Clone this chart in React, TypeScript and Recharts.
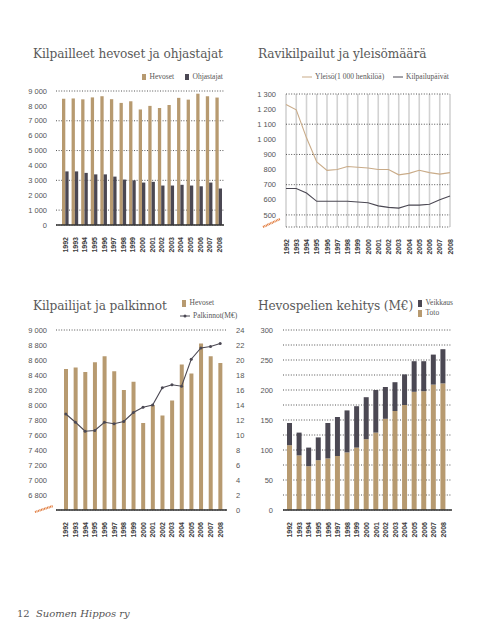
import React from 'react'
import {
  BarChart, Bar, LineChart, Line, ComposedChart, XAxis, YAxis, CartesianGrid,
} from 'recharts'

const years = ['1992', '1993', '1994', '1995', '1996', '1997', '1998', '1999', '2000', '2001', '2002', '2003', '2004', '2005', '2006', '2007', '2008']

// Kilpailleet hevoset ja ohjastajat
const hevoset = [8480, 8500, 8440, 8570, 8650, 8450, 8200, 8310, 7760, 8000, 7860, 8060, 8540, 8420, 8820, 8650, 8560]
const ohjastajat = [3600, 3600, 3500, 3400, 3400, 3250, 3050, 3000, 2850, 2900, 2650, 2650, 2700, 2650, 2600, 2850, 2450]

// Ravikilpailut ja yleisömäärä
const yleiso = [1230, 1195, 1010, 850, 795, 800, 820, 815, 810, 800, 800, 765, 775, 795, 780, 770, 780]
const kilpailupaivat = [675, 675, 645, 590, 590, 590, 590, 585, 580, 560, 550, 545, 565, 565, 570, 600, 625]

// Kilpailijat ja palkinnot
const palkinnot = [12.8, 11.7, 10.5, 10.6, 11.7, 11.5, 11.8, 13.0, 13.7, 14.0, 16.3, 16.7, 16.5, 20.1, 21.6, 21.8, 22.2]

// Hevospelien kehitys (M€)
const toto = [108, 91, 73, 83, 86, 90, 96, 104, 118, 129, 152, 165, 175, 197, 198, 209, 211]
const veikkaus = [37, 38, 31, 38, 59, 65, 70, 69, 70, 71, 53, 48, 51, 51, 50, 50, 57]

const ticks1 = [0, 1000, 2000, 3000, 4000, 5000, 6000, 7000, 8000, 9000]
const ticks2 = [500, 600, 700, 800, 900, 1000, 1100, 1200, 1300]
const ticks3L = [6800, 7000, 7200, 7400, 7600, 7800, 8000, 8200, 8400, 8600, 8800, 9000]
const ticks3R = [0, 2, 4, 6, 8, 10, 12, 14, 16, 18, 20, 22, 24]
const ticks4 = [0, 25, 50, 75, 100, 125, 150, 175, 200, 225, 250, 275, 300]

const TAN = '#b79a70'
const DARK = '#4b4853'
const LIGHT_LINE = '#c9ab88'
const ORANGE = '#e0793a'
const SERIF = '"DejaVu Serif", serif'
const LEG = '"Liberation Serif", serif'
const SANS = '"Liberation Sans", Arial, sans-serif'

const fmtK = (v: number) => (v >= 1000 ? `${Math.floor(v / 1000)} ${String(v % 1000).padStart(3, '0')}` : String(v))

const data1 = years.map((y, i) => ({ year: y, hevoset: hevoset[i], ohjastajat: ohjastajat[i] }))
const data2 = years.map((y, i) => ({ year: y, yleiso: yleiso[i], paivat: kilpailupaivat[i] }))
const data3 = years.map((y, i) => ({ year: y, hevoset: hevoset[i], palkinnot: palkinnot[i] }))
const data4 = years.map((y, i) => ({ year: y, toto: toto[i], veikkaus: veikkaus[i] }))

const YearTick = ({ x, y, payload }: any) => {
  const bx = x + 2.5
  const by = y + 4
  return (
    <text x={bx} y={by} transform={`rotate(-90 ${bx} ${by})`} textAnchor="end"
      fontFamily={SANS} fontWeight="bold" fontSize={7} fill="#3a3a3a">{payload.value}</text>
  )
}

const yTick = { fontFamily: SANS, fontSize: 7.5, fill: '#555' }
const gridProps = { stroke: '#555', strokeDasharray: '1 1.6', vertical: false }

const Title = ({ x, y, children }: any) => (
  <div style={{ position: 'absolute', left: x, top: y, fontFamily: SERIF, fontSize: 13.5, color: '#5a5a5a', whiteSpace: 'nowrap', fontStretch: 'condensed', letterSpacing: -0.1 }}>{children}</div>
)

const legendText = { fontFamily: LEG, fontSize: 7.5, color: '#555', whiteSpace: 'nowrap' as const }

const Swatch = ({ color, w = 4, h = 6 }: any) => (
  <span style={{ display: 'inline-block', width: w, height: h, background: color, marginRight: 4, verticalAlign: 'middle' }} />
)

const LineIcon = ({ color, dot }: any) => (
  <svg width={10} height={6} style={{ marginRight: 3, verticalAlign: 'middle' }}>
    <line x1={0} y1={3} x2={10} y2={3} stroke={color} strokeWidth={1} />
    {dot && <circle cx={5} cy={3} r={1.5} fill={color} />}
  </svg>
)

const Slash = ({ x1, y1, x2, y2 }: any) => (
  <svg width={480} height={640} style={{ position: 'absolute', left: 0, top: 0, pointerEvents: 'none' }}>
    <line x1={x1} y1={y1} x2={x2} y2={y2} stroke={ORANGE} strokeWidth={2.2} strokeDasharray="1 0.6" />
  </svg>
)

export default function App() {
  return (
    <div style={{ position: 'absolute', left: 0, top: 0, width: 480, height: 640, background: '#fff', overflow: 'hidden' }}>
      <Title x={33} y={45}>Kilpailleet hevoset ja ohjastajat</Title>
      <Title x={258} y={45}>Ravikilpailut ja yleisömäärä</Title>
      <Title x={33} y={297}>Kilpailijat ja palkinnot</Title>
      <Title x={258} y={297}>Hevospelien kehitys (M€)</Title>

      {/* Panel 1 */}
      <div style={{ position: 'absolute', left: 0, top: 80 }}>
        <BarChart width={240} height={180} data={data1} barGap={0} barCategoryGap={0}
          margin={{ top: 11, right: 16, bottom: 5, left: 6 }}>
          <CartesianGrid {...gridProps} />
          <XAxis dataKey="year" interval={0} tick={<YearTick />} tickLine={false} height={30}
            axisLine={{ stroke: '#333', strokeWidth: 1.5 }} padding={{ left: 5, right: 0 }} />
          <YAxis domain={[0, 9000]} ticks={ticks1} tickFormatter={fmtK} tick={yTick} width={50}
            axisLine={false} tickLine={false} tickMargin={3} />
          <Bar dataKey="hevoset" fill={TAN} barSize={3.3} isAnimationActive={false} />
          <Bar dataKey="ohjastajat" fill={DARK} barSize={3.3} isAnimationActive={false} />
        </BarChart>
      </div>
      <div style={{ position: 'absolute', left: 142, top: 72, ...legendText }}>
        <Swatch color={TAN} w={3.5} h={6} />Hevoset
      </div>
      <div style={{ position: 'absolute', left: 185, top: 72, ...legendText }}>
        <Swatch color={DARK} w={3.5} h={6} />Ohjastajat
      </div>

      {/* Panel 2 */}
      <div style={{ position: 'absolute', left: 240, top: 80 }}>
        <LineChart width={240} height={180} data={data2}
          margin={{ top: 14, right: 30, bottom: 5, left: 6 }}>
          <CartesianGrid horizontal={false} stroke="#d2d2d2" strokeWidth={1.6} />
          <CartesianGrid {...gridProps} />
          <XAxis dataKey="year" interval={0} tick={<YearTick />} tickLine={false} height={28}
            axisLine={false} />
          <YAxis domain={[420, 1300]} ticks={ticks2} tickFormatter={fmtK} tick={yTick} width={40}
            axisLine={false} tickLine={false} tickMargin={4} />
          <Line dataKey="yleiso" stroke={LIGHT_LINE} strokeWidth={1.1} dot={false} type="linear" isAnimationActive={false} />
          <Line dataKey="paivat" stroke={DARK} strokeWidth={1.1} dot={false} type="linear" isAnimationActive={false} />
        </LineChart>
      </div>
      <div style={{ position: 'absolute', left: 302, top: 72, ...legendText }}>
        <LineIcon color={LIGHT_LINE} />Yleisö(1 000 henkilöä)
      </div>
      <div style={{ position: 'absolute', left: 393, top: 72, ...legendText }}>
        <LineIcon color={DARK} />Kilpailupäivät
      </div>
      <Slash x1={263} y1={227} x2={280} y2={219} />

      {/* Panel 3 */}
      <div style={{ position: 'absolute', left: 0, top: 320 }}>
        <ComposedChart width={250} height={222} data={data3} barCategoryGap={0}
          margin={{ top: 10, right: 5, bottom: 2, left: 11 }}>
          <CartesianGrid {...gridProps} />
          <XAxis dataKey="year" interval={0} tick={<YearTick />} tickLine={false} height={30}
            axisLine={{ stroke: '#333', strokeWidth: 1.5 }} padding={{ left: 5, right: 2 }} />
          <YAxis yAxisId="l" domain={[6600, 9000]} ticks={ticks3L} tickFormatter={fmtK} tick={yTick} width={45}
            axisLine={false} tickLine={false} tickMargin={3} allowDataOverflow />
          <YAxis yAxisId="r" orientation="right" domain={[0, 24]} ticks={ticks3R} tick={yTick} width={18}
            axisLine={false} tickLine={false} tickMargin={3} />
          <Bar yAxisId="l" dataKey="hevoset" fill={TAN} barSize={4} isAnimationActive={false} />
          <Line yAxisId="r" dataKey="palkinnot" stroke={DARK} strokeWidth={1.1} type="linear"
            dot={{ r: 1.5, fill: DARK, stroke: DARK, strokeWidth: 0 }} isAnimationActive={false} />
        </ComposedChart>
      </div>
      <div style={{ position: 'absolute', left: 182, top: 298, ...legendText }}>
        <Swatch color={TAN} w={3.5} h={7} />Hevoset
      </div>
      <div style={{ position: 'absolute', left: 180, top: 311, ...legendText }}>
        <LineIcon color={DARK} dot />Palkinnot(M€)
      </div>
      <Slash x1={35} y1={512} x2={53} y2={506} />

      {/* Panel 4 */}
      <div style={{ position: 'absolute', left: 240, top: 320 }}>
        <BarChart width={240} height={222} data={data4} barCategoryGap={0}
          margin={{ top: 10, right: 28, bottom: 2, left: 3 }}>
          <CartesianGrid {...gridProps} />
          <XAxis dataKey="year" interval={0} tick={<YearTick />} tickLine={false} height={30}
            axisLine={{ stroke: '#333', strokeWidth: 1.5 }} padding={{ left: 2, right: 4 }} />
          <YAxis domain={[0, 300]} ticks={ticks4} tickFormatter={(v: number) => (v % 50 === 0 ? String(v) : '')}
            tick={yTick} width={40} axisLine={false} tickLine={false} tickMargin={4} />
          <Bar dataKey="toto" stackId="a" fill={TAN} barSize={5} isAnimationActive={false} />
          <Bar dataKey="veikkaus" stackId="a" fill={DARK} barSize={5} isAnimationActive={false} />
        </BarChart>
      </div>
      <div style={{ position: 'absolute', left: 418, top: 298, ...legendText }}>
        <Swatch color={DARK} w={3.5} h={7} />Veikkaus
      </div>
      <div style={{ position: 'absolute', left: 418, top: 308, ...legendText }}>
        <Swatch color={TAN} w={3.5} h={7} />Toto
      </div>

      <div style={{ position: 'absolute', left: 17, top: 608, fontFamily: SERIF, fontSize: 10, color: '#555', whiteSpace: 'nowrap' }}>
        12 <span style={{ fontStyle: 'italic', marginLeft: 3 }}>Suomen Hippos ry</span>
      </div>
    </div>
  )
}
